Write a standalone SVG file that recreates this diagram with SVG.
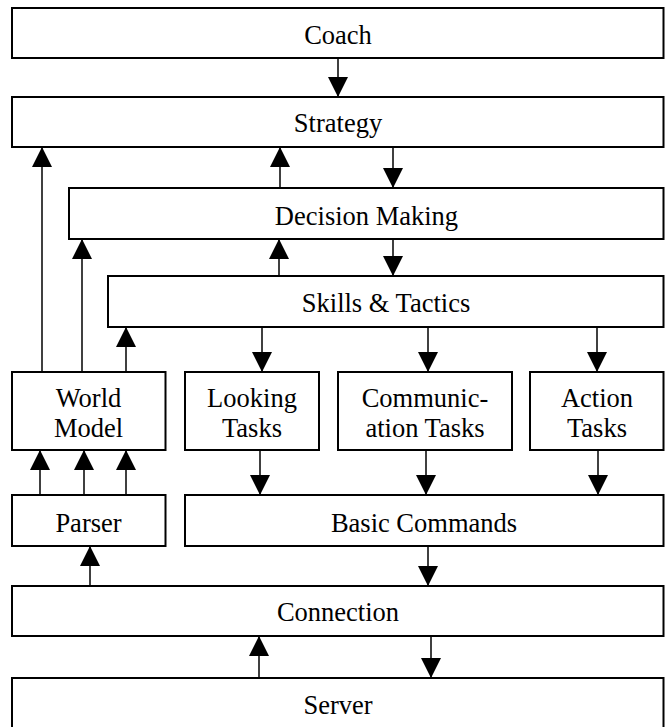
<svg xmlns="http://www.w3.org/2000/svg" width="665" height="727" viewBox="0 0 665 727">
<style>
.box{fill:#fff;stroke:#000;stroke-width:2}
.lbl{font-family:'Liberation Serif','Times New Roman',serif;font-size:26.5px;fill:#000;text-anchor:middle}
.ln{stroke:#000;stroke-width:1.5;fill:none;marker-end:url(#ah)}
</style>
<defs>
<marker id="ah" markerUnits="userSpaceOnUse" markerWidth="20" markerHeight="20" viewBox="0 0 20 20" refX="20" refY="10" orient="auto">
<path d="M0,0 L20,10 L0,20 Z" fill="#000"/>
</marker>
</defs>
<rect width="665" height="727" fill="#fff"/>
<g id="coach"><rect class="box" x="12" y="8" width="651.5" height="50"/><text class="lbl" x="338" y="44">Coach</text></g>
<g id="strategy"><rect class="box" x="12" y="97" width="651.5" height="50"/><text class="lbl" x="338" y="132">Strategy</text></g>
<g id="decision"><rect class="box" x="69" y="188" width="594.5" height="51"/><text class="lbl" x="366.5" y="225">Decision Making</text></g>
<g id="skills"><rect class="box" x="108" y="276" width="555.5" height="51"/><text class="lbl" x="386" y="312">Skills &amp; Tactics</text></g>
<g id="world"><rect class="box" x="12" y="372" width="153.5" height="78"/><text class="lbl" x="88.5" y="407">World</text><text class="lbl" x="88.5" y="437">Model</text></g>
<g id="looking"><rect class="box" x="185" y="372" width="134" height="78"/><text class="lbl" x="252" y="407">Looking</text><text class="lbl" x="252" y="437">Tasks</text></g>
<g id="communication"><rect class="box" x="338" y="372" width="174" height="78"/><text class="lbl" x="425" y="407">Communic-</text><text class="lbl" x="425" y="437">ation Tasks</text></g>
<g id="action"><rect class="box" x="530" y="372" width="133.5" height="78"/><text class="lbl" x="597" y="407">Action</text><text class="lbl" x="597" y="437">Tasks</text></g>
<g id="parser"><rect class="box" x="12" y="495" width="153.5" height="51"/><text class="lbl" x="88.5" y="532">Parser</text></g>
<g id="basic"><rect class="box" x="185" y="495" width="478.5" height="51"/><text class="lbl" x="424" y="532">Basic Commands</text></g>
<g id="connection"><rect class="box" x="12" y="586" width="651.5" height="50"/><text class="lbl" x="338" y="621">Connection</text></g>
<g id="server"><rect class="box" x="12" y="678" width="651.5" height="70"/><text class="lbl" x="338" y="714">Server</text></g>
<g id="connectors">
<line class="ln" x1="338" y1="58" x2="338" y2="97"/>
<line class="ln" x1="280" y1="188" x2="280" y2="147"/>
<line class="ln" x1="393" y1="147" x2="393" y2="188"/>
<line class="ln" x1="279" y1="276" x2="279" y2="239"/>
<line class="ln" x1="393" y1="239" x2="393" y2="276"/>
<line class="ln" x1="42" y1="372" x2="42" y2="147"/>
<line class="ln" x1="82" y1="372" x2="82" y2="239"/>
<line class="ln" x1="126" y1="372" x2="126" y2="327"/>
<line class="ln" x1="262" y1="327" x2="262" y2="372"/>
<line class="ln" x1="428" y1="327" x2="428" y2="372"/>
<line class="ln" x1="597" y1="327" x2="597" y2="372"/>
<line class="ln" x1="260" y1="450" x2="260" y2="495"/>
<line class="ln" x1="426" y1="450" x2="426" y2="495"/>
<line class="ln" x1="598" y1="450" x2="598" y2="495"/>
<line class="ln" x1="40" y1="495" x2="40" y2="450"/>
<line class="ln" x1="84" y1="495" x2="84" y2="450"/>
<line class="ln" x1="126" y1="495" x2="126" y2="450"/>
<line class="ln" x1="90" y1="586" x2="90" y2="546"/>
<line class="ln" x1="428" y1="546" x2="428" y2="586"/>
<line class="ln" x1="259" y1="678" x2="259" y2="636"/>
<line class="ln" x1="431" y1="636" x2="431" y2="678"/>
</g>
</svg>
